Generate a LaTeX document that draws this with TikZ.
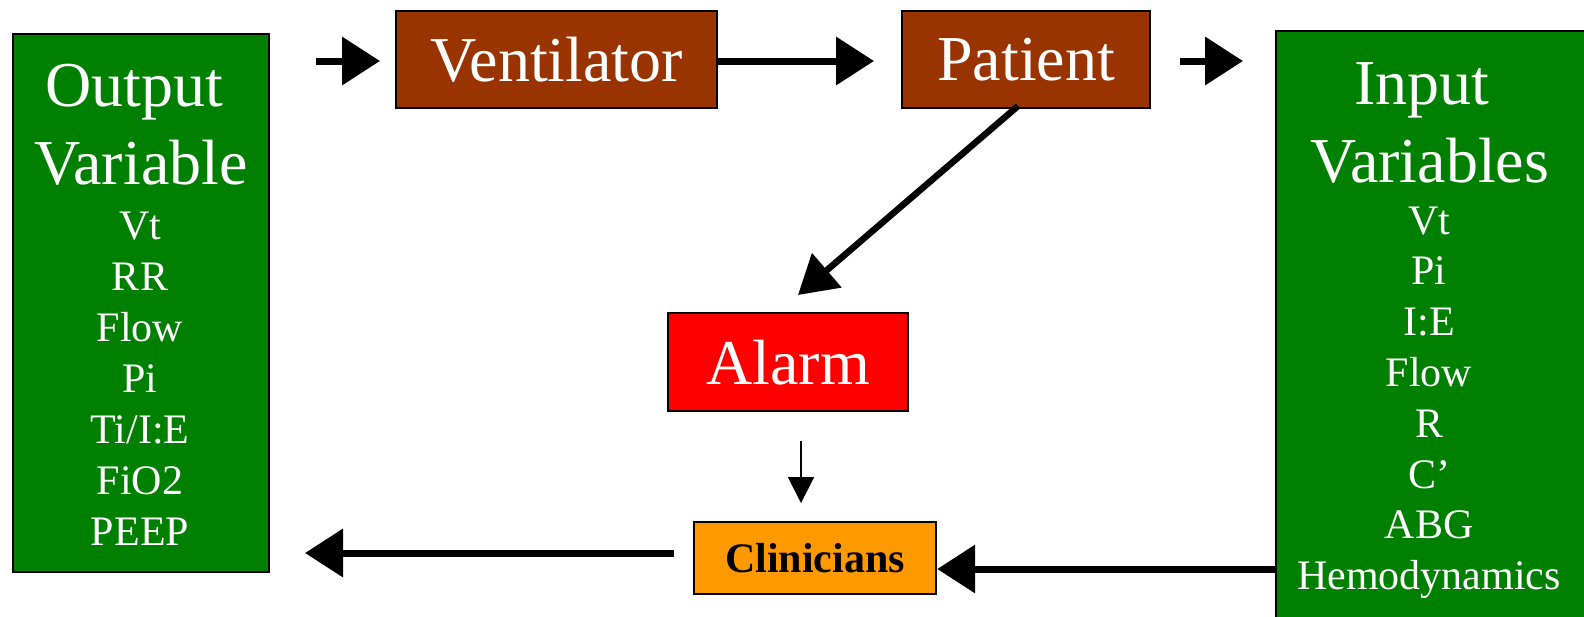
\documentclass[tikz,border=0pt]{standalone}
\usepackage{fontspec}
\setmainfont{Liberation Serif}
\usetikzlibrary{arrows.meta}
\definecolor{boxbrown}{HTML}{993300}
\definecolor{boxgreen}{HTML}{008000}
\definecolor{boxred}{HTML}{FF0000}
\definecolor{boxorange}{HTML}{FF9900}
\tikzset{
  blk/.style={draw=black, line width=2.2pt, anchor=north west, inner sep=0pt, text depth=0pt},
  bigtxt/.style={font=\fontsize{64}{64}\selectfont, text=white},
  title/.style={font=\fontsize{64}{64}\selectfont, text=white, anchor=base, inner sep=0pt},
  item/.style={font=\fontsize{42}{42}\selectfont, text=white, anchor=base, inner sep=0pt},
  thick arrow/.style={line width=7pt, -{Triangle[length=38pt,width=47pt]}},
  thin arrow/.style={line width=2pt, -{Triangle[length=26pt,width=26pt]}},
}
\begin{document}
\begin{tikzpicture}[x=1pt,y=-1pt]
\clip (0,0) rectangle (1584,616);
\useasboundingbox (0,0) rectangle (1584,616);
% boxes
\node[blk, fill=boxgreen, minimum width=256pt, minimum height=538pt] (out) at (12,33) {};
\node[blk, fill=boxgreen, minimum width=330pt, minimum height=600pt] (in) at (1275,30) {};
\node[blk, fill=boxbrown, minimum width=321pt, minimum height=97pt, bigtxt] (vent) at (395,10) {Ventilator};
\node[blk, fill=boxbrown, minimum width=248pt, minimum height=97pt, bigtxt] (pat) at (901,10) {Patient};
\node[blk, fill=boxred, minimum width=240pt, minimum height=98pt, bigtxt] (alarm) at (667,312) {Alarm};
\node[blk, fill=boxorange, minimum width=242pt, minimum height=72pt, font=\fontsize{42}{42}\selectfont\bfseries] (clin) at (693,521) {Clinicians};
% left box text
\node[title] (ot1) at (134,106) {Output};
\node[title] (ot2) at (141,184) {Variable};
\foreach \t [count=\i] in {Vt,RR,Flow,Pi,Ti/I:E,FiO2,PEEP}
  \node[item] (oi\i) at (140,{239+51*(\i-1)}) {\t};
% right box text
\node[title] (it1) at (1422,104) {Input};
\node[title] (it2) at (1430,182) {Variables};
\foreach \t [count=\i] in {Vt,Pi,I:E,Flow,R,C’,ABG,Hemodynamics}
  \node[item] (ii\i) at (1429,{234+50.8*(\i-1)}) {\t};
% free ends
\coordinate (a1s) at (316,61);
\coordinate (a1e) at (380,61);
\coordinate (a3s) at (1180,61);
\coordinate (a3e) at (1243,61);
\coordinate (pa) at (1018,106);
\coordinate (alarmtip) at (798,295);
\coordinate (thins) at (801,441);
\coordinate (thine) at (801,503);
\coordinate (leftend) at (305,553);
\coordinate (leftstart) at (674,553);
% arrows
\draw[thick arrow] (a1s) -- (a1e);
\draw[thick arrow] (vent.east |- 0,61) -- (874,61);
\draw[thick arrow] (a3s) -- (a3e);
\draw[line width=6.5pt, -{Triangle[length=38pt,width=44pt]}] (pa) -- (alarmtip);
\draw[thin arrow] (thins) -- (thine);
\draw[thick arrow] (in.west |- 0,569) -- (clin.east |- 0,569);
\draw[thick arrow] (leftstart) -- (leftend);
\end{tikzpicture}
\end{document}
